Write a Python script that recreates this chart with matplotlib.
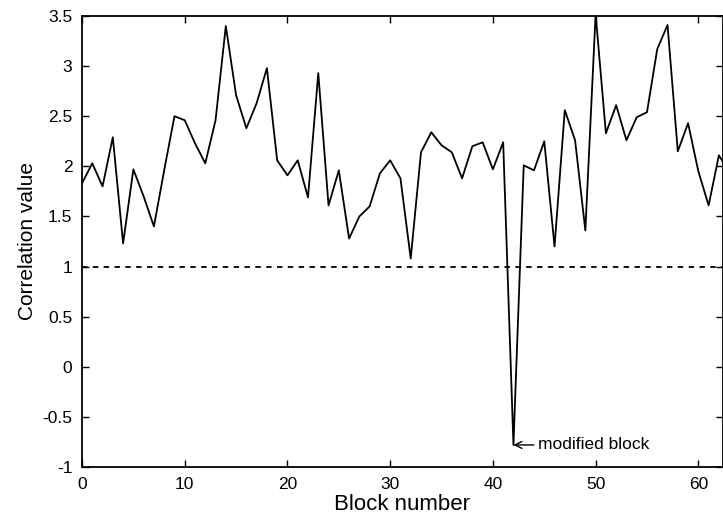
import numpy as np
import matplotlib
matplotlib.use("Agg")
import matplotlib.pyplot as plt

plt.rcParams['font.family'] = ['Liberation Sans', 'DejaVu Sans']

# correlation per block
block = np.arange(0, 64)
corr = [1.83, 2.03, 1.80, 2.29, 1.23, 1.97, 1.70, 1.40, 1.96, 2.50,
        2.46, 2.23, 2.03, 2.46, 3.40, 2.71, 2.38, 2.63, 2.98, 2.06,
        1.91, 2.06, 1.69, 2.93, 1.61, 1.96, 1.28, 1.50, 1.60, 1.93,
        2.06, 1.88, 1.08, 2.14, 2.34, 2.21, 2.14, 1.88, 2.20, 2.24,
        1.97, 2.24, -0.78, 2.01, 1.96, 2.25, 1.20, 2.56, 2.26, 1.36,
        3.52, 2.33, 2.61, 2.26, 2.49, 2.54, 3.17, 3.41, 2.15, 2.43,
        1.95, 1.61, 2.11, 1.94]
threshold = 1.0
modified = 42

fig = plt.figure(figsize=(7.23, 5.20), dpi=100)
ax = fig.add_axes([82/723, 53/520, (723-82)/723, 451/520])

ax.plot(block, corr, color='k', linewidth=1.3)
ax.axhline(threshold, color='k', linewidth=1.3, linestyle=(0, (3, 3)))

ax.annotate('modified block', xy=(modified, -0.78), xytext=(44.4, -0.78),
            fontsize=12.5, va='center', ha='left',
            arrowprops=dict(arrowstyle='->', color='k', lw=1.0,
                            shrinkA=1, shrinkB=0))

ax.set_xlim(0, 62.4)
ax.set_ylim(-1, 3.5)
ax.set_xticks(np.arange(0, 61, 10))
ax.set_yticks(np.arange(-1, 3.6, 0.5))
ax.set_yticklabels(['-1', '-0.5', '0', '0.5', '1', '1.5', '2', '2.5', '3', '3.5'])
ax.tick_params(direction='in', top=True, right=True, length=5, width=1,
               labelsize=12.5, pad=7)
for s in ax.spines.values():
    s.set_linewidth(1.3)

ax.set_xlabel('Block number', fontsize=16, labelpad=2)
ax.set_ylabel('Correlation value', fontsize=15, labelpad=4)

fig.savefig('out.png', dpi=100)
